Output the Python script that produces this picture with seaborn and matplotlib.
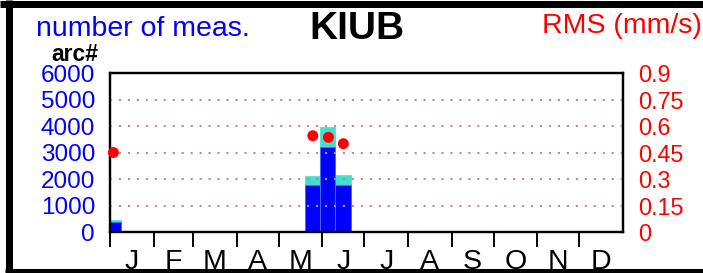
import numpy as np
import seaborn as sns
import matplotlib.pyplot as plt
from matplotlib.lines import Line2D

# ---- data ----
station = "KIUB"
month_letters = ["J", "F", "M", "A", "M", "J", "J", "A", "S", "O", "N", "D"]
month_days = [31, 28, 31, 30, 31, 30, 31, 31, 30, 31, 30, 31]

# number of measurements per ~11-day bin (day of year)
bin_day = [2.4, 144.3, 155.2, 166.1]
arcs_total = [450, 2130, 3950, 2150]
arcs_main = [370, 1780, 3220, 1780]

# RMS per bin (mm/s)
rms_day = [2.4, 144.3, 155.4, 166.0]
rms_value = [0.45, 0.545, 0.536, 0.50]

count_ticks = [0, 1000, 2000, 3000, 4000, 5000, 6000]
rms_ticks = [0, 0.15, 0.3, 0.45, 0.6, 0.75, 0.9]
rms_labels = ["0", "0.15", "0.3", "0.45", "0.6", "0.75", "0.9"]

sns.set_theme(style="ticks")
plt.rcParams["font.family"] = ["Liberation Sans", "DejaVu Sans"]

month_start = np.concatenate([[0], np.cumsum(month_days)[:-1]])
month_mid = month_start + np.array(month_days) / 2

fig = plt.figure(figsize=(7.03, 2.73), dpi=100)
ax = fig.add_axes([0.1565, 0.150, 0.7297, 0.5826])

# stacked bars: turquoise total underneath, blue part on top of it
sns.histplot(x=bin_day, weights=arcs_total, binwidth=10.9, binrange=(-3.1, 171.3),
             color="#40e0d0", alpha=1, edgecolor="#40e0d0", linewidth=0.5, ax=ax)
sns.histplot(x=bin_day, weights=arcs_main, binwidth=10.9, binrange=(-3.1, 171.3),
             color="#0000ff", alpha=1, edgecolor="#4a6cff", linewidth=0.6, ax=ax)

ax.set_xlim(0, 365)
ax.set_ylim(0, 6000)
ax.set_yticks(count_ticks)
ax.set_yticklabels([str(t) for t in count_ticks])
ax.set_xticks(month_start)
ax.set_xticklabels([])
ax.set_xticks(month_mid, minor=True)
ax.set_xticklabels(month_letters, minor=True)
ax.set_xlabel("")
ax.set_ylabel("")
ax.set_axisbelow(False)
ax.grid(axis="y", color="#bc8f8f", linestyle=(0, (1, 3.3)), linewidth=1.5)
ax.grid(axis="x", visible=False)

ax.tick_params(axis="x", which="major", direction="out", length=10.8, width=1.4,
               color="black")
ax.tick_params(axis="x", which="minor", length=0, pad=12.5, labelsize=20.5,
               labelcolor="black")
ax.tick_params(axis="y", length=0, pad=10.8, labelsize=17.5, labelcolor="#0000ff")

for sp in ax.spines.values():
    sp.set_visible(True)
    sp.set_color("black")
    sp.set_linewidth(1.6)

# RMS on the right axis
ax2 = ax.twinx()
sns.scatterplot(x=rms_day, y=rms_value, color="#ff0000", s=62, edgecolor="none",
                clip_on=False, zorder=5, ax=ax2)
ax2.set_ylim(0, 0.9)
ax2.set_yticks(rms_ticks)
ax2.set_yticklabels(rms_labels)
ax2.set_ylabel("")
ax2.tick_params(axis="y", length=0, pad=10.8, labelsize=16.8, labelcolor="#ff0000")
for sp in ax2.spines.values():
    sp.set_visible(True)
    sp.set_color("black")
    sp.set_linewidth(1.6)

# header texts
fig.text(36 / 703, 1 - 36 / 273, "number of meas.", color="#0000ff", fontsize=20.5,
         ha="left", va="baseline")
fig.text(356.5 / 703, 1 - 39 / 273, station, color="black", fontsize=28,
         fontweight="bold", ha="center", va="baseline")
fig.text(542 / 703, 1 - 33 / 273, "RMS (mm/s)", color="#ff0000", fontsize=20.5,
         ha="left", va="baseline")
fig.text(51 / 703, 1 - 61 / 273, "arc#", color="black", fontsize=16.5,
         fontweight="bold", ha="left", va="baseline")

# outer black frame (the month letters are partly hidden by it, as in the reference)
W, H = 703, 273
for (x0, y0, x1, y1) in [(0, 3.5, W + 10, 3.5), (8.5, 0, 8.5, H + 10),
                         (5, 271.5, W + 10, 271.5)]:
    fig.add_artist(Line2D([x0 / W, x1 / W], [1 - y0 / H, 1 - y1 / H],
                          transform=fig.transFigure, color="black", linewidth=5.04,
                          solid_capstyle="butt"))

fig.savefig("out.png", dpi=100)
